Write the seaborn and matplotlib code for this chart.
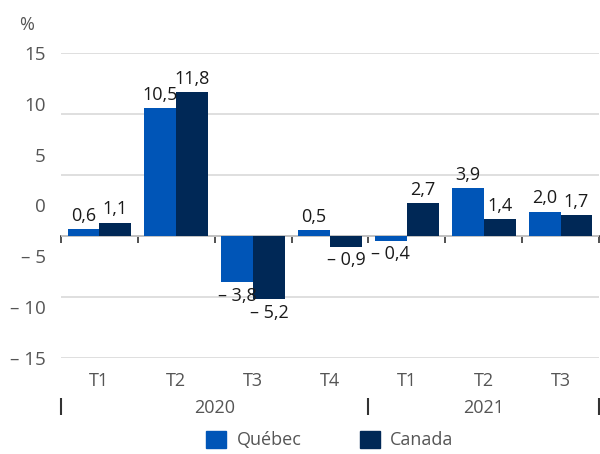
import numpy as np
import pandas as pd
import matplotlib
matplotlib.use("Agg")
import matplotlib.pyplot as plt
import seaborn as sns

sns.set_theme(style="white")
plt.rcParams['font.family'] = ['Open Sans', 'DejaVu Sans']

# Data
quarters = ["T1", "T2", "T3", "T4", "T1", "T2", "T3"]
years = ["2020", "2020", "2020", "2020", "2021", "2021", "2021"]
quebec = [0.6, 10.5, -3.8, 0.5, -0.4, 3.9, 2.0]
canada = [1.1, 11.8, -5.2, -0.9, 2.7, 1.4, 1.7]
series = ["Québec", "Canada"]
colors = ["#0055b7", "#002856"]

keys = [f"{y} {q}" for y, q in zip(years, quarters)]
df = pd.DataFrame({
    "periode": keys * 2,
    "serie": [series[0]] * len(keys) + [series[1]] * len(keys),
    "valeur": quebec + canada,
})


def fmt(v, dec=1):
    s = f"{abs(v):.{dec}f}".replace(".", ",")
    return ("\u2013 " + s) if v < 0 else s


fig = plt.figure(figsize=(6, 4.54), dpi=100)
ax = fig.add_axes([61 / 600, 96 / 454, 538 / 600, 305 / 454])

sns.barplot(data=df, x="periode", y="valeur", hue="serie", order=keys,
            hue_order=series, palette=colors, width=0.83, linewidth=0,
            saturation=1, ax=ax, legend=False)

for cont, vals in zip(ax.containers, [quebec, canada]):
    ax.bar_label(cont, labels=[fmt(v) for v in vals], padding=3,
                 fontsize=13, color="#1a1a1a")

ax.set_xlim(-0.5, len(keys) - 0.5)
ax.set_ylim(-10, 15)
ax.set_yticks([-10, -5, 0, 5, 10, 15])
ax.set_yticklabels([])
ax.tick_params(axis="y", length=0)
ax.grid(axis="y", color="#d9d9d9", linewidth=1.2)
ax.set_axisbelow(True)
for sp in ax.spines.values():
    sp.set_visible(False)
ax.set_xlabel("")
ax.set_ylabel("")

# quarter labels at the bottom
ax.set_xticks(range(len(keys)))
ax.set_xticklabels(quarters)
ax.tick_params(axis="x", length=0, pad=10, labelsize=13, labelcolor="#555555")

# y labels (as in the original, spread evenly from 15 down to -15)
sec_y = ax.secondary_yaxis("left", functions=(lambda d: 1.2 * (d + 10) - 15,
                                                lambda v: (v + 15) / 1.2 - 10))
ticks_y = [-15, -10, -5, 0, 5, 10, 15]
sec_y.set_yticks(ticks_y)
sec_y.set_yticklabels([fmt(v, 0) for v in ticks_y])
sec_y.tick_params(length=0, pad=11, labelsize=13.5, labelcolor="#555555")
sec_y.spines["left"].set_visible(False)

# zero line with ticks at category boundaries
bounds = np.arange(len(keys) + 1) - 0.5
zero_frac = (0 - (-10)) / 25
sec_x = ax.secondary_xaxis(zero_frac)
sec_x.set_xticks(bounds)
sec_x.set_xticklabels([])
sec_x.tick_params(direction="out", length=5, width=1.2, color="#333333")
sec_x.spines["bottom"].set_color("#333333")
sec_x.spines["bottom"].set_linewidth(1.2)

# year labels with separators
yr = ax.secondary_xaxis(-40 / 305)
yr_names = list(dict.fromkeys(years))
yr_centers = [np.mean([i for i, y in enumerate(years) if y == n]) for n in yr_names]
yr_bounds = [-0.5] + [max(i for i, y in enumerate(years) if y == n) + 0.5 for n in yr_names]
yr.set_xticks(yr_centers)
yr.set_xticklabels(yr_names)
yr.set_xticks(yr_bounds, minor=True)
yr.tick_params(which="major", length=0, pad=1, labelsize=13, labelcolor="#555555")
yr.tick_params(which="minor", direction="out", length=12, width=1.5, color="#333333")
yr.spines["bottom"].set_visible(False)

fig.text(27 / 600, 1 - 25 / 454, "%", ha="center", va="center",
         fontsize=13, color="#555555")

handles = [plt.Rectangle((0, 0), 1, 1, color=c) for c in colors]
fig.legend(handles, series, loc="center", bbox_to_anchor=(330 / 600, 1 - 440 / 454),
           ncol=2, frameon=False, fontsize=13, handlelength=1.1, handleheight=1.1,
           columnspacing=3.2, handletextpad=0.6, labelcolor="#555555")

fig.savefig("out.png", dpi=100)
